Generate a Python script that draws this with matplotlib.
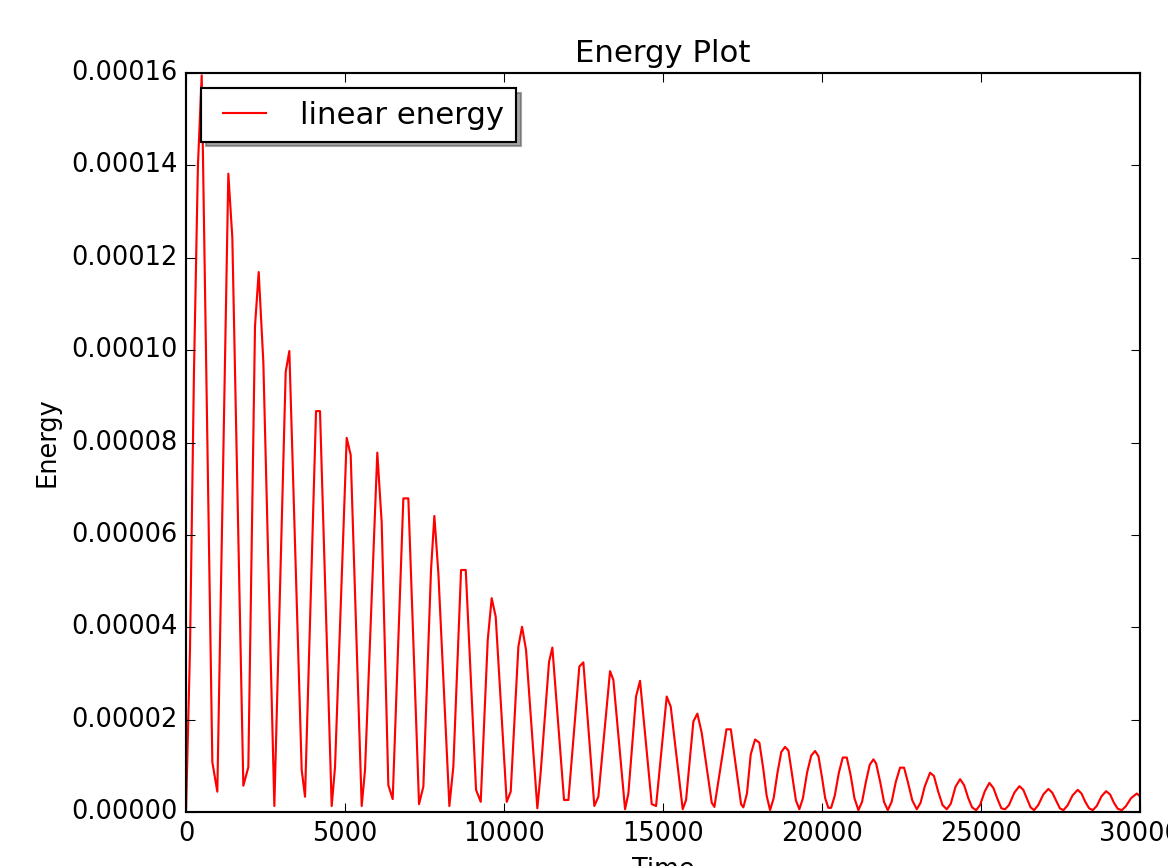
import matplotlib
matplotlib.use("Agg")
import matplotlib.pyplot as plt
import numpy as np

plt.style.use("classic")

# Vertices of the energy curve (time, energy in 1e-5 units)
time = [
    0, 125, 250, 375, 494, 828, 985,
    1331, 1457, 1803, 1960,
    2170, 2286, 2432, 2778,
    3135, 3250, 3638, 3743,
    4089, 4214, 4581, 4686,
    5053, 5179, 5525, 5630,
    6016, 6154, 6363, 6500,
    6835, 6992, 7328, 7464,
    7705, 7810, 7936, 8282, 8407,
    8650, 8797, 9121, 9268,
    9488, 9613, 9739, 10085, 10211,
    10452, 10567, 10693, 11049, 11155,
    11416, 11521, 11888, 12025,
    12369, 12495, 12841, 12967,
    13335, 13439, 13807, 13911,
    14152, 14278, 14646, 14782,
    15117, 15243, 15620, 15725,
    15955, 16081, 16218, 16533, 16616,
    16995, 17133, 17455, 17527,
    17640, 17760, 17895, 18031, 18150, 18260, 18367,
    18480, 18600, 18720, 18839, 18945, 19060, 19180, 19288,
    19400, 19530, 19660, 19782, 19887, 20000, 20100, 20200, 20286,
    20400, 20530, 20653, 20779, 20900, 21020, 21145,
    21260, 21380, 21500, 21617, 21702, 21830, 21950, 22068,
    22190, 22320, 22455, 22581, 22700, 22840, 22981,
    23100, 23230, 23398, 23520, 23650, 23790, 23924,
    24050, 24200, 24343, 24470, 24600, 24720, 24846,
    24970, 25120, 25264, 25390, 25520, 25640, 25758,
    25880, 26050, 26208, 26330, 26450, 26560, 26670,
    26800, 26960, 27119, 27240, 27360, 27480, 27591,
    27720, 27880, 28044, 28160, 28280, 28400, 28515,
    28640, 28790, 28934, 29060, 29180, 29300, 29427,
    29550, 29720, 29899, 30000,
]
energy_e5 = [
    0.0, 3.5, 9.5, 14.0, 15.95, 1.08, 0.44,
    13.82, 12.43, 0.57, 0.97,
    10.52, 11.69, 9.74, 0.13,
    9.53, 9.98, 0.91, 0.33,
    8.68, 8.68, 0.13, 0.97,
    8.10, 7.73, 0.13, 0.91,
    7.78, 6.26, 0.58, 0.28,
    6.79, 6.79, 0.17, 0.55,
    5.24, 6.41, 5.17, 0.13, 0.98,
    5.24, 5.24, 0.48, 0.22,
    3.72, 4.63, 4.23, 0.22, 0.44,
    3.58, 4.01, 3.51, 0.08, 0.87,
    3.25, 3.56, 0.26, 0.26,
    3.15, 3.24, 0.13, 0.33,
    3.05, 2.86, 0.06, 0.40,
    2.50, 2.84, 0.17, 0.13,
    2.50, 2.28, 0.06, 0.26,
    1.96, 2.13, 1.71, 0.20, 0.11,
    1.79, 1.79, 0.17, 0.10,
    0.40, 1.25, 1.57, 1.50, 0.95, 0.35, 0.04,
    0.30, 0.85, 1.30, 1.41, 1.33, 0.80, 0.25, 0.06,
    0.30, 0.85, 1.22, 1.32, 1.21, 0.75, 0.30, 0.09, 0.09,
    0.35, 0.85, 1.18, 1.18, 0.80, 0.30, 0.04,
    0.22, 0.65, 1.02, 1.14, 1.05, 0.65, 0.22, 0.04,
    0.22, 0.65, 0.96, 0.96, 0.65, 0.25, 0.06,
    0.20, 0.55, 0.85, 0.78, 0.45, 0.15, 0.06,
    0.18, 0.55, 0.71, 0.58, 0.30, 0.10, 0.04,
    0.15, 0.45, 0.63, 0.52, 0.28, 0.08, 0.06,
    0.15, 0.42, 0.56, 0.48, 0.28, 0.10, 0.04,
    0.15, 0.38, 0.50, 0.42, 0.25, 0.08, 0.04,
    0.14, 0.36, 0.48, 0.40, 0.22, 0.08, 0.04,
    0.13, 0.34, 0.45, 0.38, 0.20, 0.07, 0.04,
    0.12, 0.30, 0.40, 0.34,
]

title = "Energy Plot"
xlabel = "Time"
ylabel = "Energy"
series_label = "linear energy"

energy = np.array(energy_e5) * 1e-5

DPI = 154
fig = plt.figure(figsize=(1168 / DPI, 866 / DPI), dpi=DPI, facecolor="white")
ax = fig.add_axes([186 / 1168, 54 / 866, (1140 - 186) / 1168, (812 - 73) / 866])

ax.plot(time, energy, color="r", linewidth=1.0, label=series_label)
ax.set_xlim(0, 30000)
ax.set_ylim(0, 0.00016)
ax.set_xticks(np.arange(0, 30001, 5000))
ax.set_yticks(np.arange(0, 0.000161, 0.00002))
ax.set_yticklabels(["%.5f" % v for v in np.arange(0, 0.000161, 0.00002)])
ax.set_title(title)
ax.set_xlabel(xlabel)
ax.set_ylabel(ylabel)
ax.legend(loc="upper left", shadow=True, fancybox=False)

fig.savefig("out.png", dpi=DPI, facecolor="white")
